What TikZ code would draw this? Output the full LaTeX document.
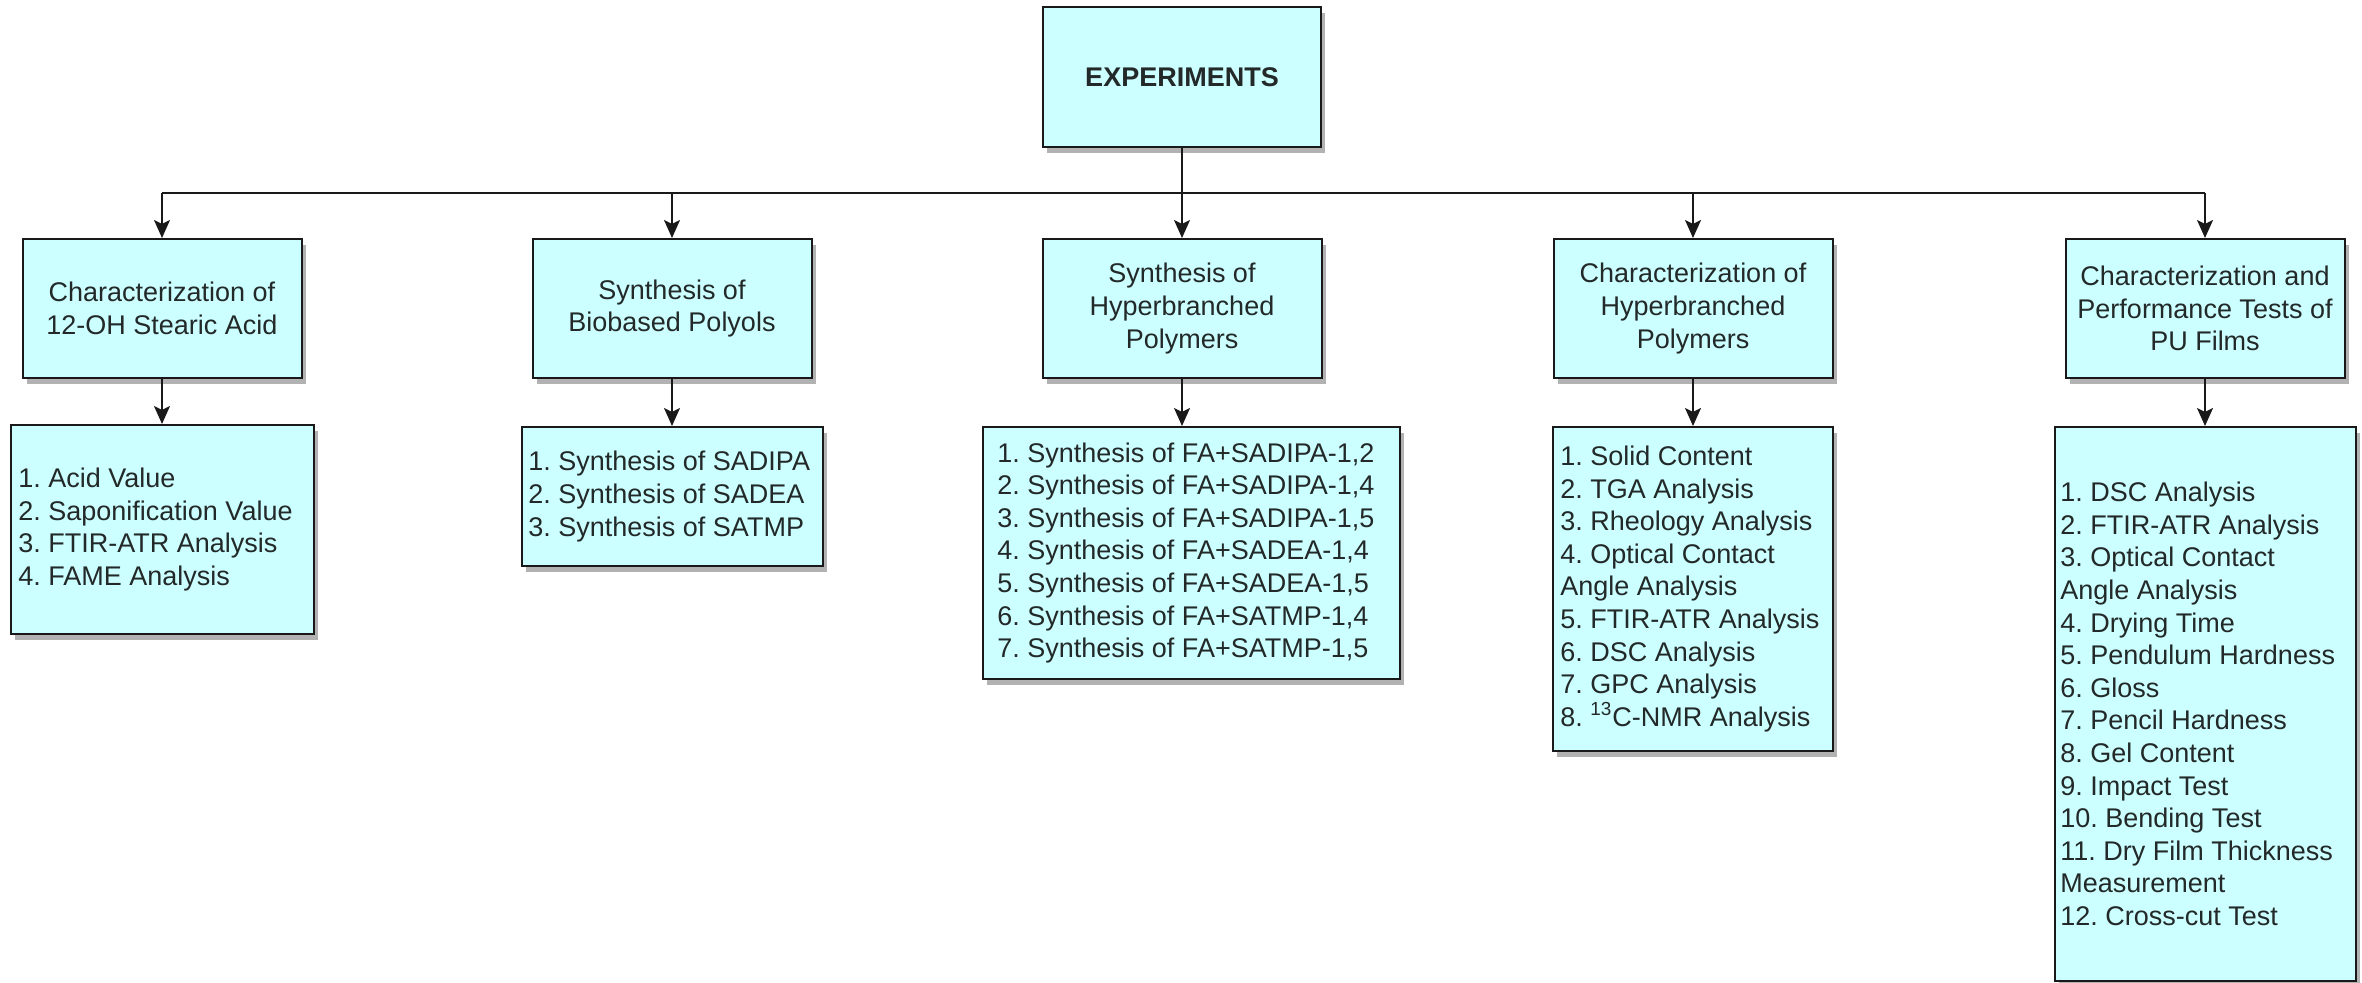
\documentclass[tikz,border=0pt]{standalone}
\usepackage{fontspec}
\setmainfont{Liberation Sans}
\usetikzlibrary{arrows.meta,shadows}
\definecolor{boxfill}{RGB}{204,255,255}
\definecolor{linecol}{RGB}{25,25,25}
\definecolor{txtcol}{RGB}{35,40,40}
\frenchspacing
\begin{document}
\begin{tikzpicture}[x=0.5pt,y=-0.5pt,
  box/.style={draw=linecol, line width=1pt, fill=boxfill, inner sep=0pt,
    drop shadow={shadow xshift=2pt, shadow yshift=-3pt, fill=black, opacity=0.3}},
  lbl/.style={text=txtcol, inner sep=0pt, font=\fontsize{13.5}{16.3}\selectfont},
  lone/.style={lbl, align=center},
  ltwo/.style={lbl, align=left, anchor=west},
  line/.style={draw=linecol, line width=1pt},
  arr/.style={line, -{Stealth[length=9pt,width=8pt,inset=2pt]}}]
\useasboundingbox[fill=white] (0,0) rectangle (2362,983);

% root
\node[box, minimum width=139pt, minimum height=70pt] (exp) at (1182,77) {};
\node[lbl, font=\fontsize{13.5}{16.3}\selectfont\bfseries] (expt) at (exp.center) {EXPERIMENTS};

% level 1
\node[box, minimum width=139.5pt, minimum height=69.5pt] (a1) at (162,308.5) {};
\node[box, minimum width=139.5pt, minimum height=69.5pt] (b1) at (672,308.5) {};
\node[box, minimum width=139.5pt, minimum height=69.5pt] (c1) at (1182,308.5) {};
\node[box, minimum width=139.5pt, minimum height=69.5pt] (d1) at (1693,308.5) {};
\node[box, minimum width=139.5pt, minimum height=69.5pt] (e1) at (2205,308.5) {};
\node[lone] (a1t) at (a1.center) {Characterization of\\12-OH Stearic Acid};
\node[lone] (b1t) at (b1.center) {Synthesis of\\Biobased Polyols};
\node[lone] (c1t) at (c1.center) {Synthesis of\\Hyperbranched\\Polymers};
\node[lone] (d1t) at (d1.center) {Characterization of\\Hyperbranched\\Polymers};
\node[lone] (e1t) at (e1.center) {Characterization and\\Performance Tests of\\PU Films};

% level 2
\node[box, minimum width=151.5pt, minimum height=104.5pt] (a2) at (162.5,529.5) {};
\node[box, minimum width=150.5pt, minimum height=69.5pt] (b2) at (672.5,496.5) {};
\node[box, minimum width=208.5pt, minimum height=126pt] (c2) at (1191.5,553) {};
\node[box, minimum width=140pt, minimum height=162pt] (d2) at (1693,589) {};
\node[box, minimum width=150.5pt, minimum height=277pt] (e2) at (2205.5,704) {};

\node[ltwo] (a2t) at ([xshift=4pt]a2.west) {1. Acid Value\\2. Saponification Value\\3. FTIR-ATR Analysis\\4. FAME Analysis};
\node[ltwo] (b2t) at ([xshift=3.5pt]b2.west) {1. Synthesis of SADIPA\\2. Synthesis of SADEA\\3. Synthesis of SATMP};
\node[ltwo] (c2t) at ([xshift=7.5pt]c2.west) {1. Synthesis of FA+SADIPA-1,2\\2. Synthesis of FA+SADIPA-1,4\\3. Synthesis of FA+SADIPA-1,5\\4. Synthesis of FA+SADEA-1,4\\5. Synthesis of FA+SADEA-1,5\\6. Synthesis of FA+SATMP-1,4\\7. Synthesis of FA+SATMP-1,5};
\node[ltwo] (d2t) at ([xshift=4pt]d2.west) {1. Solid Content\\2. TGA Analysis\\3. Rheology Analysis\\4. Optical Contact\\Angle Analysis\\5. FTIR-ATR Analysis\\6. DSC Analysis\\7. GPC Analysis\\8. \textsuperscript{13}C-NMR Analysis};
\node[ltwo] (e2t) at ([xshift=3pt]e2.west) {1. DSC Analysis\\2. FTIR-ATR Analysis\\3. Optical Contact\\Angle Analysis\\4. Drying Time\\5. Pendulum Hardness\\6. Gloss\\7. Pencil Hardness\\8. Gel Content\\9. Impact Test\\10. Bending Test\\11. Dry Film Thickness\\Measurement\\12. Cross-cut Test};

% connectors
\coordinate (bus) at (1182,193);
\draw[line] (exp.south) -- (exp.south |- bus);
\draw[line] (a1.north |- bus) -- (e1.north |- bus);
\foreach \n in {a1,b1,c1,d1,e1}{
  \draw[arr] (\n.north |- bus) -- (\n.north);
}
\draw[arr] (a1.south) -- (a1.south |- a2.north);
\draw[arr] (b1.south) -- (b1.south |- b2.north);
\draw[arr] (c1.south) -- (c1.south |- c2.north);
\draw[arr] (d1.south) -- (d1.south |- d2.north);
\draw[arr] (e1.south) -- (e1.south |- e2.north);
\end{tikzpicture}
\end{document}
